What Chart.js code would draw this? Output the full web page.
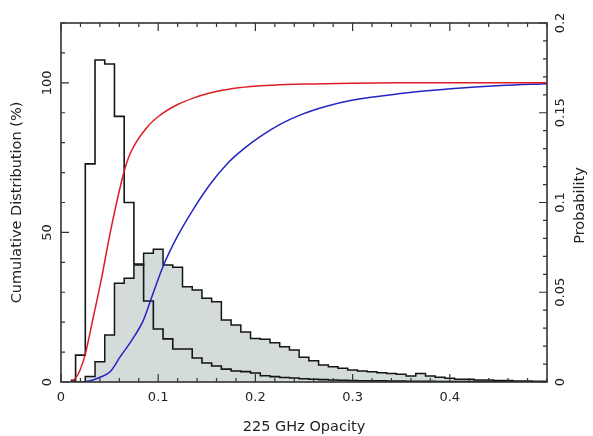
<!DOCTYPE html>
<html>
<head>
<meta charset="utf-8">
<script src="https://cdn.jsdelivr.net/npm/chart.js@4.4.1/dist/chart.umd.min.js"></script>
<style>
  html, body { margin: 0; padding: 0; background: #fff; }
</style>
</head>
<body>
<canvas id="chart" width="593" height="436"></canvas>
<script>
// histogram bin centres (225 GHz opacity), bins are 0.01 wide
const binCentres = [
  0.01, 0.02, 0.03, 0.04, 0.05, 0.06, 0.07, 0.08, 0.09, 0.10,
  0.11, 0.12, 0.13, 0.14, 0.15, 0.16, 0.17, 0.18, 0.19, 0.20,
  0.21, 0.22, 0.23, 0.24, 0.25, 0.26, 0.27, 0.28, 0.29, 0.30,
  0.31, 0.32, 0.33, 0.34, 0.35, 0.36, 0.37, 0.38, 0.39, 0.40,
  0.41, 0.42, 0.43, 0.44, 0.45, 0.46, 0.47, 0.48, 0.49, 0.50
];

// narrow distribution, black outline (right axis)
const probOutline = [
  0.001, 0.015, 0.1215, 0.1794, 0.1772, 0.148, 0.100, 0.0657, 0.0451, 0.0295,
  0.024, 0.0184, 0.0184, 0.0134, 0.0106, 0.0089, 0.0072, 0.0061, 0.0058, 0.005,
  0.0035, 0.003, 0.0025, 0.0022, 0.0018, 0.0015, 0.0013, 0.0011, 0.001, 0.0008,
  0.0007, 0.0006, 0.0006, 0.0005, 0.0005, 0.0004, 0.0004, 0.0004, 0.0003, 0.0003,
  0.0003, 0.0002, 0.0002, 0.0002, 0.0002, 0.0002, 0.0001, 0.0001, 0.0001, 0.0001
];

// wide distribution, grey shaded (right axis)
const probShaded = [
  0, 0, 0.003, 0.0113, 0.0262, 0.055, 0.0578, 0.0652, 0.0717, 0.0739,
  0.0652, 0.0639, 0.0531, 0.0513, 0.0466, 0.0447, 0.0345, 0.0317, 0.0279, 0.0243,
  0.0238, 0.0219, 0.0197, 0.0178, 0.0138, 0.0118, 0.0095, 0.0085, 0.0076, 0.0067,
  0.0061, 0.0057, 0.0052, 0.0048, 0.0043, 0.0033, 0.0048, 0.0033, 0.0026, 0.0021,
  0.0015, 0.0015, 0.0011, 0.0011, 0.0009, 0.0009, 0.0006, 0.0006, 0.0004, 0.0004
];

// cumulative curves (left axis, %)
const redOpacity = [0.012, 0.019, 0.0247, 0.0333, 0.0419, 0.0505, 0.0643, 0.0711, 0.0884, 0.102,
  0.119, 0.136, 0.153, 0.171, 0.205, 0.25, 0.30, 0.35, 0.40, 0.45, 0.50];
const redCumulative = [0, 3.5, 9, 21.8, 35, 49.7, 69.6, 76.3, 85.1, 89.2,
  92.6, 94.9, 96.6, 97.8, 99, 99.6, 99.9, 100, 100, 100, 100];

const blueOpacity = [0.02, 0.03, 0.0402, 0.0505, 0.0608, 0.0729, 0.0848, 0.0935, 0.1055, 0.1193,
  0.1364, 0.1536, 0.1708, 0.1879, 0.2052, 0.2258, 0.2464, 0.2722, 0.2979, 0.3495, 0.401, 0.4526, 0.5];
const blueCumulative = [0, 0.4, 1.6, 3.4, 8.4, 14, 20.7, 28.5, 39, 48.4,
  57.9, 66.2, 72.9, 77.9, 82.1, 86.2, 89.3, 92.1, 94.1, 96.4, 98.0, 99.1, 99.7];

const xTickLabels = [0, 0.1, 0.2, 0.3, 0.4];
const leftTickLabels = [0, 50, 100];
const rightTickLabels = [0, 0.05, 0.1, 0.15, 0.2];

const FONT = '"DejaVu Sans", sans-serif';
const INK = '#222';

function toPoints(xs, ys) {
  return xs.map((x, i) => ({ x: x, y: ys[i] }));
}

function near(list, v) {
  return list.some(l => Math.abs(l - v) < 1e-9);
}

// frame, inward tick marks, rotated y labels and right title
const frameAndTicks = {
  id: 'frameAndTicks',
  afterDraw(chart) {
    const { ctx, chartArea: a } = chart;
    const { x, y, y2 } = chart.scales;
    ctx.save();
    ctx.strokeStyle = '#333';
    ctx.lineWidth = 1.2;
    ctx.beginPath();
    x.ticks.forEach(t => {
      const px = x.getPixelForValue(t.value);
      const len = near(xTickLabels, t.value) ? 8 : 4;
      ctx.moveTo(px, a.bottom); ctx.lineTo(px, a.bottom - len);
      ctx.moveTo(px, a.top); ctx.lineTo(px, a.top + len);
    });
    y.ticks.forEach(t => {
      const py = y.getPixelForValue(t.value);
      const len = near(leftTickLabels, t.value) ? 8 : 4;
      ctx.moveTo(a.left, py); ctx.lineTo(a.left + len, py);
    });
    y2.ticks.forEach(t => {
      const py = y2.getPixelForValue(t.value);
      const len = near(rightTickLabels, t.value) ? 8 : 4;
      ctx.moveTo(a.right, py); ctx.lineTo(a.right - len, py);
    });
    ctx.stroke();
    ctx.lineWidth = 1.6;
    ctx.strokeRect(a.left, a.top, a.right - a.left, a.bottom - a.top);

    const vtext = (s, cx, cy) => {
      ctx.save();
      ctx.translate(cx, cy);
      ctx.rotate(-Math.PI / 2);
      ctx.fillText(s, 0, 0);
      ctx.restore();
    };
    ctx.fillStyle = INK;
    ctx.textAlign = 'center';
    ctx.textBaseline = 'middle';
    ctx.font = '13px ' + FONT;
    leftTickLabels.forEach(v => vtext(String(v), a.left - 13, y.getPixelForValue(v)));
    rightTickLabels.forEach(v => vtext(String(v), a.right + 14, y2.getPixelForValue(v)));
    ctx.font = '14.5px ' + FONT;
    vtext('Probability', a.right + 33, (a.top + a.bottom) / 2 + 3);
    ctx.restore();
  }
};

new Chart(document.getElementById('chart'), {
  type: 'line',
  data: {
    datasets: [
      {
        data: toPoints(redOpacity, redCumulative),
        yAxisID: 'y',
        borderColor: '#de1c24',
        borderWidth: 1.5,
        pointRadius: 0,
        cubicInterpolationMode: 'monotone',
        fill: false
      },
      {
        data: toPoints(blueOpacity, blueCumulative),
        yAxisID: 'y',
        borderColor: '#2424c4',
        borderWidth: 1.5,
        pointRadius: 0,
        cubicInterpolationMode: 'monotone',
        fill: false
      },
      {
        data: toPoints(binCentres, probOutline),
        yAxisID: 'y2',
        stepped: 'middle',
        borderColor: '#151515',
        borderWidth: 1.6,
        pointRadius: 0,
        fill: false
      },
      {
        data: toPoints(binCentres, probShaded),
        yAxisID: 'y2',
        stepped: 'middle',
        borderColor: '#151515',
        borderWidth: 1.5,
        backgroundColor: '#d3dbdb',
        pointRadius: 0,
        fill: 'origin'
      }
    ]
  },
  options: {
    responsive: false,
    animation: false,
    layout: { padding: { top: 23 } },
    plugins: {
      legend: { display: false },
      tooltip: { enabled: false }
    },
    scales: {
      x: {
        type: 'linear',
        min: 0,
        max: 0.5,
        grid: { display: false },
        border: { display: false },
        ticks: {
          stepSize: 0.02,
          autoSkip: false,
          maxRotation: 0,
          padding: 0,
          color: INK,
          font: { family: FONT, size: 13 },
          callback: v => near(xTickLabels, v) ? String(+v.toFixed(2)) : ''
        },
        title: {
          display: true,
          text: '225 GHz Opacity',
          color: INK,
          font: { family: FONT, size: 14.5 },
          padding: { top: 0, bottom: 0 }
        },
        afterFit: s => { s.height = 54; }
      },
      y: {
        position: 'left',
        min: 0,
        max: 120,
        grid: { display: false },
        border: { display: false },
        ticks: { stepSize: 10, display: false },
        title: {
          display: true,
          text: 'Cumulative Distribution (%)',
          color: INK,
          font: { family: FONT, size: 14.5 },
          padding: { top: 9, bottom: 0 }
        },
        afterFit: s => { s.width = 61; }
      },
      y2: {
        position: 'right',
        min: 0,
        max: 0.2,
        grid: { display: false },
        border: { display: false },
        ticks: { stepSize: 0.01, display: false },
        afterFit: s => { s.width = 46; }
      }
    }
  },
  plugins: [frameAndTicks]
});
</script>
</body>
</html>
